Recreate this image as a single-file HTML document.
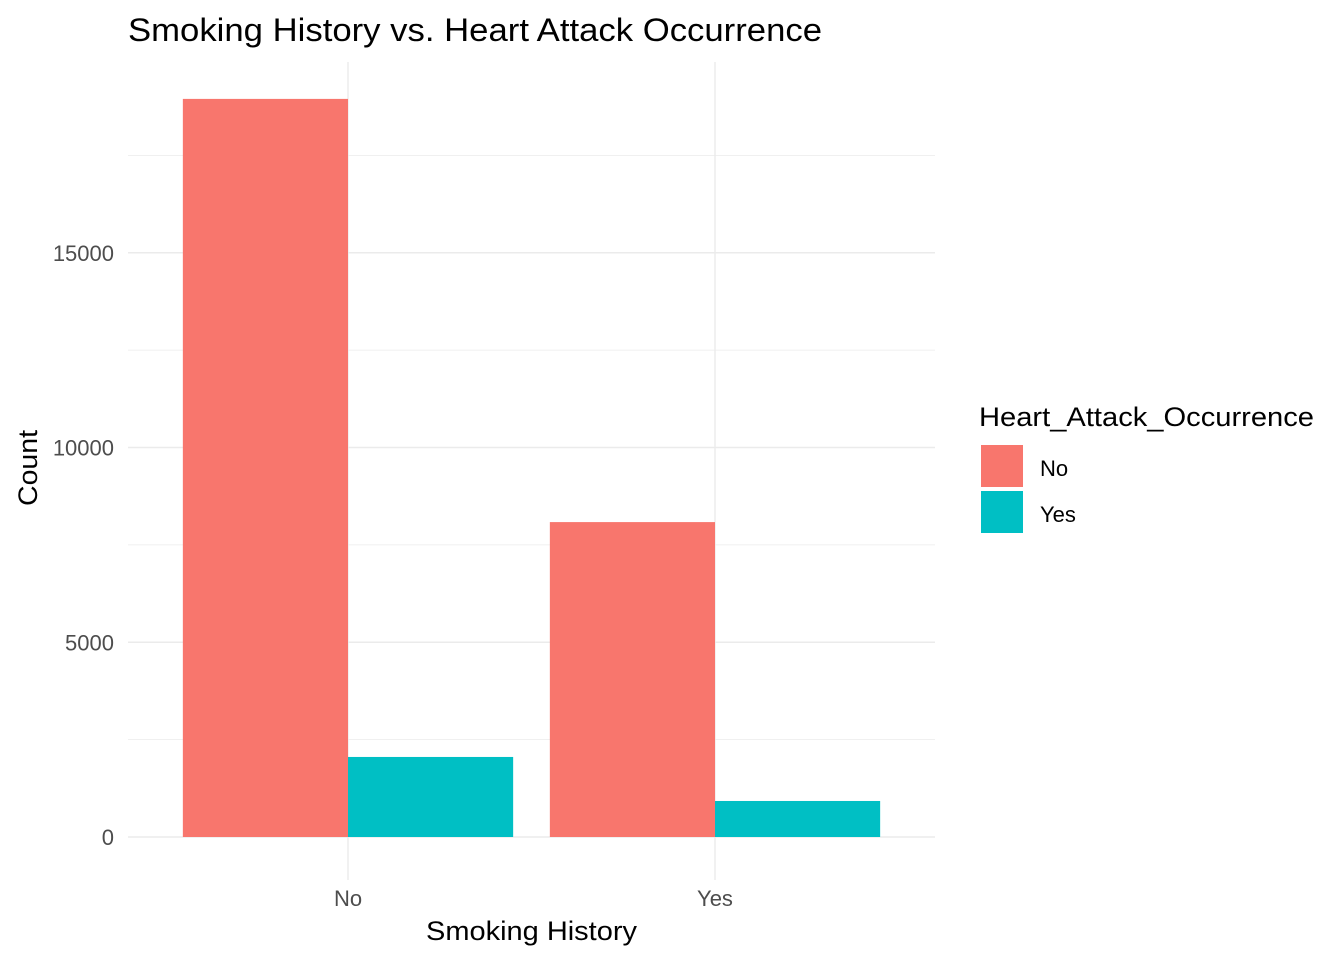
<!DOCTYPE html>
<html><head><meta charset="utf-8"><style>
body{margin:0;background:#fff;width:1344px;height:960px;overflow:hidden}
svg text{font-family:"Liberation Sans",Arial,sans-serif}
</style></head><body>
<svg id="chart" width="1344" height="960" xmlns="http://www.w3.org/2000/svg">
<text x="128" y="41" font-size="32" fill="#000" textLength="694" lengthAdjust="spacingAndGlyphs">Smoking History vs. Heart Attack Occurrence</text>
<g id="grid"></g><g id="bars"></g><g id="axes"></g>
<text x="426" y="940" font-size="27" fill="#000" textLength="211" lengthAdjust="spacingAndGlyphs">Smoking History</text>
<text transform="translate(37,468) rotate(-90)" font-size="27" text-anchor="middle" fill="#000" textLength="76" lengthAdjust="spacingAndGlyphs">Count</text>
<g>
<text x="979" y="426" font-size="27" fill="#000" textLength="335" lengthAdjust="spacingAndGlyphs">Heart_Attack_Occurrence</text>
<rect x="981" y="445" width="42" height="42" fill="#F8766D"/>
<text x="1040" y="476" font-size="22" fill="#000">No</text>
<rect x="981" y="491" width="42" height="42" fill="#00BFC4"/>
<text x="1040" y="522" font-size="22" fill="#000">Yes</text>
</g>
</svg>
<script>
const categories=["No","Yes"];
const seriesNames=["No","Yes"];
const seriesNo=[18950,8085];
const seriesYes=[2055,925];
const yTicks=[0,5000,10000,15000];
const colors=["#F8766D","#00BFC4"];
const NS="http://www.w3.org/2000/svg";
const x0=128,x1=935,yZero=837,pxPer=0.03895;
const y=v=>yZero-v*pxPer;
const step=367,firstC=348;
const xc=i=>firstC+i*step;
function mk(tag,attrs,parent){const e=document.createElementNS(NS,tag);for(const k in attrs)e.setAttribute(k,attrs[k]);parent.appendChild(e);return e;}
const grid=document.getElementById('grid'),bars=document.getElementById('bars'),axes=document.getElementById('axes');
for(let v=0;v<=18000;v+=2500){
 const l=mk('line',{x1:x0,x2:x1,y1:y(v),y2:y(v),stroke:'#ebebeb','stroke-width':v%5000===0?1.4:0.7},grid);
 
 
}
categories.forEach((c,i)=>{
 const l=mk('line',{x1:xc(i),x2:xc(i),y1:62,y2:880,stroke:'#ebebeb','stroke-width':1.4},grid);
 
 
 const t=mk('text',{x:xc(i),y:906,'font-size':22,'text-anchor':'middle',fill:'#4d4d4d'},axes);
 t.textContent=c;
 
 
});
yTicks.forEach(v=>{
 const t=mk('text',{x:114,y:y(v)+8,'font-size':22,'text-anchor':'end',fill:'#4d4d4d'},axes);
 t.textContent=v;
 
 
});
const bw=step*0.9/2;
[seriesNo,seriesYes].forEach((s,si)=>{
 s.forEach((v,i)=>{
  const r=mk('rect',{x:xc(i)-bw+si*bw,y:y(v),width:bw,height:yZero-y(v),fill:colors[si]},bars);
  
  
 });
});
</script>
</body></html>
